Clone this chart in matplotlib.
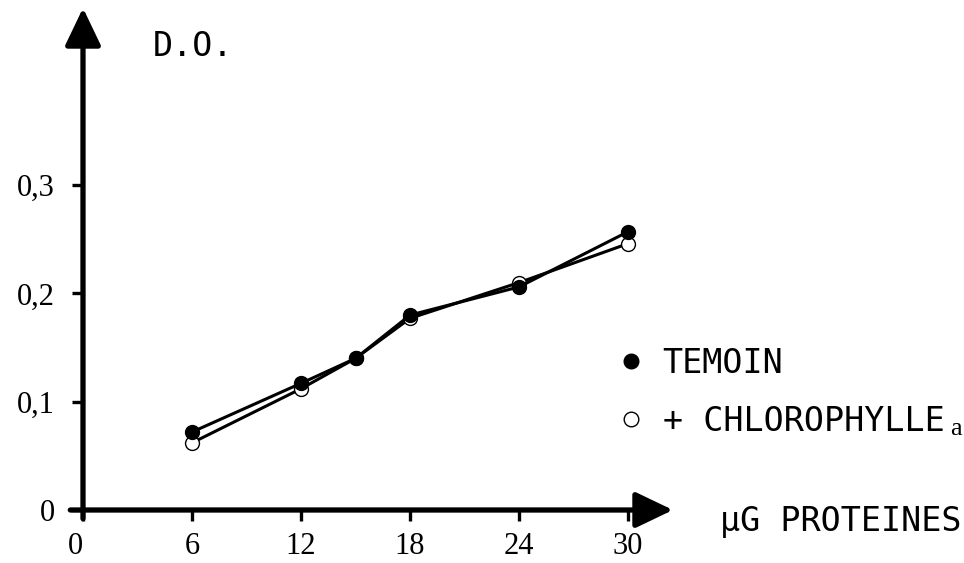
import matplotlib
matplotlib.use("Agg")
import matplotlib.pyplot as plt

# Data
proteines = [6, 12, 15, 18, 24, 30]
temoin = [0.072, 0.117, 0.140, 0.180, 0.206, 0.257]
chlorophylle = [0.062, 0.112, 0.140, 0.177, 0.210, 0.246]

xticks = [0, 6, 12, 18, 24, 30]
xticklabels = ["0", "6", "12", "18", "24", "30"]
yticks = [0, 0.1, 0.2, 0.3]
yticklabels = ["0", "0,1", "0,2", "0,3"]

label_font = ["DejaVu Sans Mono"]
tick_font = ["Liberation Serif", "DejaVu Serif"]

W, H = 964, 563
fig = plt.figure(figsize=(W / 100, H / 100), dpi=100)

x0_px, y0_px = 83, 510
px_per_x = 18.17
px_per_y = 1083.0
right_px, top_px = 673, 8
ax = fig.add_axes([x0_px / W, 1 - y0_px / H, (right_px - x0_px) / W, (y0_px - top_px) / H])
ax.set_xlim(0, (right_px - x0_px) / px_per_x)
ax.set_ylim(0, (y0_px - top_px) / px_per_y)

for s in ax.spines.values():
    s.set_visible(False)

xmax = ax.get_xlim()[1]
ymax = ax.get_ylim()[1]
arrow = dict(arrowstyle="-|>,head_length=2.3,head_width=1.1", lw=3.8, color="black",
             mutation_scale=10, shrinkA=0, shrinkB=0)
ax.annotate("", xy=(xmax, 0), xytext=(-0.7, 0), arrowprops=arrow, annotation_clip=False)
ax.annotate("", xy=(0, ymax), xytext=(0, -0.008), arrowprops=arrow, annotation_clip=False)

ax.plot(proteines, chlorophylle, color="black", lw=2.2, marker="o", ms=10,
        mfc="white", mec="black", mew=1.0, zorder=3, clip_on=False,
        label="+ CHLOROPHYLLE")
ax.plot(proteines, temoin, color="black", lw=2.2, marker="o", ms=10,
        mfc="black", mec="black", zorder=4, clip_on=False, label="TEMOIN")

ax.set_xticks(xticks)
ax.set_xticklabels(xticklabels, fontfamily=tick_font, fontsize=22)
ax.set_yticks(yticks)
ax.set_yticklabels(yticklabels, fontfamily=tick_font, fontsize=22)
ax.tick_params(axis="x", direction="out", length=8, width=2.4, pad=8)
ax.tick_params(axis="y", direction="out", length=8, width=2.4, pad=12)
ax.get_xticklabels()[0].set_horizontalalignment("right")

lab = dict(fontfamily=label_font, fontsize=24)
ax.text(153 / W, 1 - 47 / H, "D.O.", transform=fig.transFigure, va="center", ha="left", **lab)
ax.text(720 / W, 1 - 522 / H, "\u00b5G PROTEINES", transform=fig.transFigure,
        va="center", ha="left", **lab)

h, l = ax.get_legend_handles_labels()
leg = ax.legend([h[1], h[0]], [l[1], l[0]], loc="upper left",
                bbox_to_anchor=(631 / W, 1 - 347 / H), bbox_transform=fig.transFigure,
                frameon=False, handlelength=0, handletextpad=0.95, labelspacing=0.74,
                borderpad=0, borderaxespad=0,
                prop={"family": label_font, "size": 24}, markerscale=1.05)
for line in leg.get_lines():
    line.set_linestyle("none")
for line in leg.get_lines()[1:]:
    line.set_markeredgewidth(1.0)

fig.text(950 / W, 1 - 435 / H, "a", va="baseline", ha="left",
         fontfamily=tick_font, fontsize=19)

fig.savefig("out.png", dpi=100)
